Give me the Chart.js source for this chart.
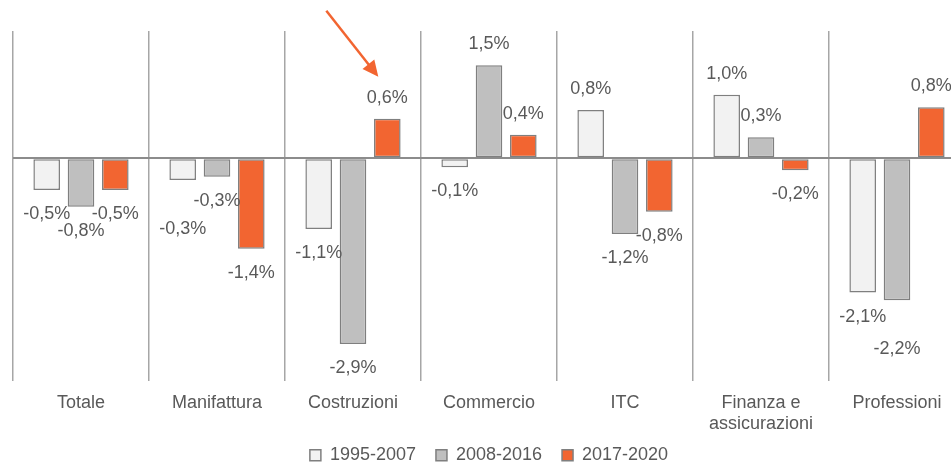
<!DOCTYPE html>
<html lang="it">
<head>
<meta charset="utf-8">
<title>Variazione per settore</title>
<script src="https://cdn.jsdelivr.net/npm/chart.js@4.4.1/dist/chart.umd.min.js"></script>
<style>
  html, body { margin: 0; padding: 0; background: #ffffff; overflow: hidden; }
  #wrap { position: absolute; left: 0; top: 0; width: 975px; height: 465px; }
</style>
</head>
<body>
<div id="wrap"><canvas id="chart" width="975" height="465"></canvas></div>
<script>
// Data
const categories = ['Totale', 'Manifattura', 'Costruzioni', 'Commercio', 'ITC', ['Finanza e', 'assicurazioni'], 'Professioni'];
const seriesNames = ['1995-2007', '2008-2016', '2017-2020'];
const values1995 = [-0.50, -0.34, -1.11, -0.14, 0.76, 1.00, -2.11];
const values2008 = [-0.76, -0.29, -2.92, 1.46, -1.19, 0.33, -2.23];
const values2017 = [-0.50, -1.42, 0.62, 0.37, -0.84, -0.19, 0.80];

const ORANGE = '#f26531';
const GREY_TEXT = '#595959';
const BORDER = '#7f7f7f';

Chart.defaults.font.family = "'Liberation Sans', Arial, sans-serif";
Chart.defaults.font.size = 18;
Chart.defaults.color = GREY_TEXT;

function fmt(v) {
  return (Math.round(v * 10) / 10).toFixed(1).replace('.', ',') + '%';
}

// Value labels at the end of each bar
const barLabels = {
  id: 'barLabels',
  afterDatasetsDraw(chart, args, opts) {
    const ctx = chart.ctx;
    ctx.save();
    ctx.font = "18px 'Liberation Sans', Arial, sans-serif";
    ctx.fillStyle = GREY_TEXT;
    ctx.textAlign = 'center';
    ctx.textBaseline = 'middle';
    chart.data.datasets.forEach((ds, di) => {
      const meta = chart.getDatasetMeta(di);
      meta.data.forEach((bar, i) => {
        const v = ds.data[i];
        const extra = opts.nudge[di + '-' + i] || 0;
        const y = v >= 0 ? bar.y - 21 - extra : bar.y + 24 + extra;
        ctx.fillText(fmt(v), bar.x, y);
      });
    });
    ctx.restore();
  }
};

// Orange arrow pointing at the Costruzioni 2017-2020 bar
const arrow = {
  id: 'arrow',
  afterDraw(chart) {
    const bar = chart.getDatasetMeta(2).data[2];
    if (!bar) return;
    const tx = bar.x - 9, ty = bar.y - 42;
    const sx = bar.x - 61, sy = bar.y - 108;
    const ang = Math.atan2(ty - sy, tx - sx);
    const len = 16, half = 7.5;
    const ctx = chart.ctx;
    ctx.save();
    ctx.strokeStyle = ORANGE;
    ctx.fillStyle = ORANGE;
    ctx.lineWidth = 2.5;
    ctx.beginPath();
    ctx.moveTo(sx, sy);
    ctx.lineTo(tx - Math.cos(ang) * len * 0.8, ty - Math.sin(ang) * len * 0.8);
    ctx.stroke();
    const bx = tx - Math.cos(ang) * len, by = ty - Math.sin(ang) * len;
    ctx.beginPath();
    ctx.moveTo(tx, ty);
    ctx.lineTo(bx + Math.sin(ang) * half, by - Math.cos(ang) * half);
    ctx.lineTo(bx - Math.sin(ang) * half, by + Math.cos(ang) * half);
    ctx.closePath();
    ctx.fill();
    ctx.restore();
  }
};

// Legend: small reserved height, then stretched up under the two-line category label
const legendFit = {
  id: 'legendFit',
  beforeInit(chart) {
    const origFit = chart.legend.fit;
    chart.legend.fit = function () {
      origFit.bind(chart.legend)();
      this.height = 29.8;
    };
  },
  afterLayout(chart) {
    const lg = chart.legend;
    lg.top = 426.2;
    lg.bottom = chart.height;
    lg.height = lg.bottom - lg.top;
  }
};

function makeDataset(label, data, color) {
  return {
    label: label,
    data: data,
    backgroundColor: color,
    borderColor: BORDER,
    borderWidth: 1.5,
    borderSkipped: false,
    categoryPercentage: 0.757,
    barPercentage: 0.775
  };
}

new Chart(document.getElementById('chart'), {
  type: 'bar',
  data: {
    labels: categories,
    datasets: [
      makeDataset(seriesNames[0], values1995, '#f2f2f2'),
      makeDataset(seriesNames[1], values2008, '#bfbfbf'),
      makeDataset(seriesNames[2], values2017, ORANGE)
    ]
  },
  options: {
    responsive: false,
    animation: false,
    layout: { padding: { left: 13, right: 10, top: 31, bottom: 0 } },
    scales: {
      x: {
        offset: true,
        grid: { display: true, offset: true, color: '#a6a6a6', lineWidth: 1.5, drawTicks: false },
        border: { display: false },
        ticks: { color: GREY_TEXT, padding: 11, font: { size: 18 }, maxRotation: 0, autoSkip: false },
        afterFit(scale) { scale.height = 54.2; }
      },
      y: {
        min: -3.5,
        max: 2,
        ticks: { display: false, stepSize: 0.5 },
        grid: {
          drawTicks: false,
          color: (c) => (c.tick && c.tick.value === 0 ? '#8c8c8c' : 'rgba(0,0,0,0)'),
          lineWidth: 2
        },
        border: { display: false },
        afterFit(scale) { scale.width = 0; }
      }
    },
    plugins: {
      legend: {
        position: 'bottom',
        labels: {
          boxWidth: 11,
          boxHeight: 11,
          padding: 20,
          color: GREY_TEXT,
          font: { size: 18 }
        }
      },
      tooltip: { enabled: false },
      barLabels: { nudge: { '0-1': 25, '1-6': 25 } }
    }
  },
  plugins: [barLabels, arrow, legendFit]
});
</script>
</body>
</html>
